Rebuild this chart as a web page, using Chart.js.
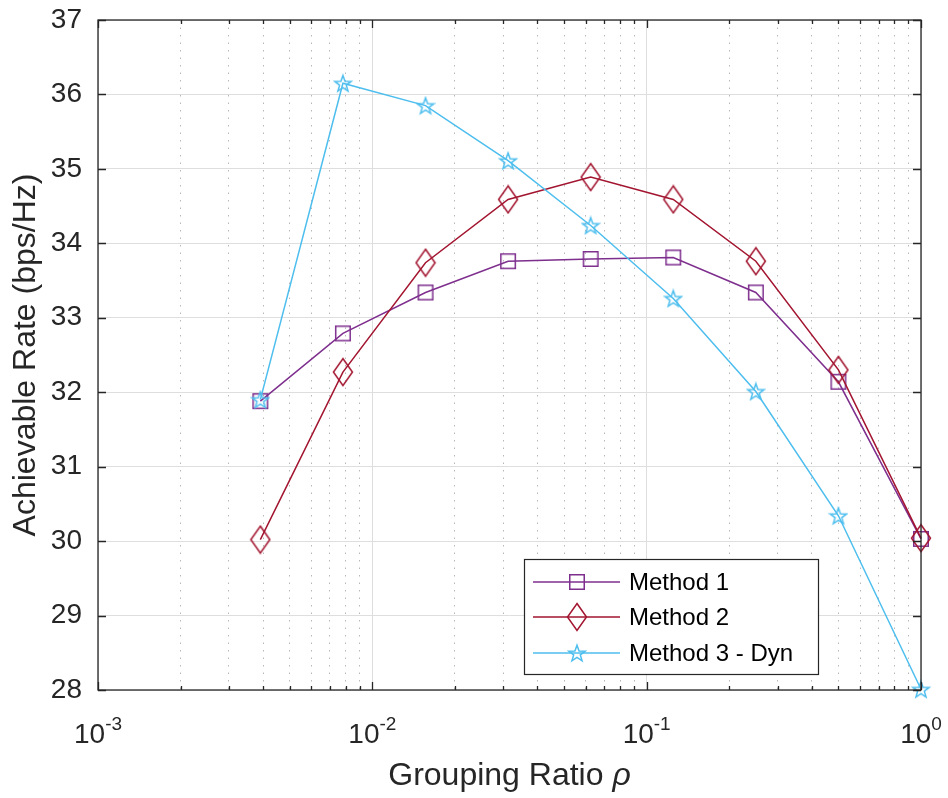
<!DOCTYPE html>
<html>
<head>
<meta charset="utf-8">
<script src="https://cdn.jsdelivr.net/npm/chart.js@4/dist/chart.umd.min.js"></script>
<style>
  body { margin: 0; background: #fff; }
  canvas { display: block; }
</style>
</head>
<body>
<canvas id="rateChart" width="948" height="798"></canvas>
<script>
// grouping ratio rho = 2^-8 ... 2^0
const groupingRatio = [0.00390625, 0.0078125, 0.015625, 0.03125, 0.0625, 0.125, 0.25, 0.5, 1];

// achievable rate (bps/Hz)
const method1 = [31.88, 32.79, 33.34, 33.76, 33.79, 33.81, 33.34, 32.14, 30.03];
const method2 = [30.02, 32.27, 33.74, 34.59, 34.89, 34.59, 33.76, 32.30, 30.04];
const method3 = [31.90, 36.15, 35.85, 35.11, 34.24, 33.26, 32.01, 30.34, 28.01];

const seriesNames = ['Method 1', 'Method 2', 'Method 3 - Dyn'];

// axis ticks
const xMajorTicks = [0.001, 0.01, 0.1, 1];
const xMinorSteps = [2, 3, 4, 5, 6, 7, 8, 9];
const yMin = 28, yMax = 37;

const FONT = '"Liberation Sans", Arial, Helvetica, sans-serif';
const AXIS_COLOR = '#262626';
const COLORS = ['#7E2F8E', '#A2142F', '#4DBEEE'];

function isMajor(v) {
    return xMajorTicks.some(m => Math.abs(m - v) / m < 1e-9);
}

// build every x tick: decades plus 2..9 within each decade
const xAllTicks = [];
xMajorTicks.forEach((m, i) => {
    xAllTicks.push(m);
    if (i < xMajorTicks.length - 1) {
        xMinorSteps.forEach(s => xAllTicks.push(m * s));
    }
});

// marker images (MATLAB style outlined markers)
function makeMarker(kind, color) {
    const c = document.createElement('canvas');
    let w, h;
    if (kind === 'square') { w = 18; h = 18; }
    else if (kind === 'diamond') { w = 22; h = 30; }
    else { w = 20; h = 20; }
    c.width = w; c.height = h;
    const g = c.getContext('2d');
    g.strokeStyle = color;
    g.lineWidth = 1.5;
    g.beginPath();
    if (kind === 'square') {
        g.rect(1.75, 1.75, 14.5, 14.5);
    } else if (kind === 'diamond') {
        g.moveTo(w / 2, 1.5);
        g.lineTo(w - 1.5, h / 2);
        g.lineTo(w / 2, h - 1.5);
        g.lineTo(1.5, h / 2);
        g.closePath();
    } else {
        const cx = w / 2, cy = h / 2 + 0.8, ro = 8.6, ri = 3.5;
        for (let k = 0; k < 10; k++) {
            const r = k % 2 === 0 ? ro : ri;
            const a = -Math.PI / 2 + k * Math.PI / 5;
            const px = cx + r * Math.cos(a), py = cy + r * Math.sin(a);
            if (k === 0) g.moveTo(px, py); else g.lineTo(px, py);
        }
        g.closePath();
    }
    g.stroke();
    return c;
}

const markers = [
    makeMarker('square', COLORS[0]),
    makeMarker('diamond', COLORS[1]),
    makeMarker('star', COLORS[2])
];

function toPoints(values) {
    return values.map((y, i) => ({ x: groupingRatio[i], y: y }));
}

// axes box, inward ticks, x labels, x title and legend like MATLAB
const matlabAxes = {
    id: 'matlabAxes',
    afterDatasetsDraw(chart) {
        const { ctx, chartArea: a, scales } = chart;
        ctx.save();
        ctx.strokeStyle = AXIS_COLOR;
        ctx.lineWidth = 1.3;
        ctx.beginPath();
        scales.x.ticks.forEach(t => {
            const px = Math.round(scales.x.getPixelForValue(t.value)) + 0.5;
            const len = isMajor(t.value) ? 8 : 4;
            ctx.moveTo(px, a.bottom); ctx.lineTo(px, a.bottom - len);
            ctx.moveTo(px, a.top); ctx.lineTo(px, a.top + len);
        });
        scales.y.ticks.forEach(t => {
            const py = Math.round(scales.y.getPixelForValue(t.value)) + 0.5;
            ctx.moveTo(a.left, py); ctx.lineTo(a.left + 8, py);
            ctx.moveTo(a.right, py); ctx.lineTo(a.right - 8, py);
        });
        ctx.stroke();
        ctx.strokeRect(a.left, a.top, a.right - a.left, a.bottom - a.top);
        ctx.restore();
    },
    afterDraw(chart) {
        const { ctx, chartArea: a, scales } = chart;
        ctx.save();
        ctx.fillStyle = AXIS_COLOR;
        ctx.textBaseline = 'alphabetic';
        ctx.textAlign = 'left';

        // x tick labels 10^n
        xMajorTicks.forEach(v => {
            const px = scales.x.getPixelForValue(v);
            const exp = String(Math.round(Math.log10(v)));
            ctx.font = '28px ' + FONT;
            const wBase = ctx.measureText('10').width;
            ctx.font = '19px ' + FONT;
            const wExp = ctx.measureText(exp).width;
            const x0 = px - (wBase + wExp) / 2;
            ctx.font = '28px ' + FONT;
            ctx.fillText('10', x0, 743);
            ctx.font = '19px ' + FONT;
            ctx.fillText(exp, x0 + wBase, 730);
        });

        // x title with italic rho
        const t1 = 'Grouping Ratio ', t2 = '\u03C1';
        ctx.font = '32px ' + FONT;
        const w1 = ctx.measureText(t1).width;
        ctx.font = 'italic 32px ' + FONT;
        const w2 = ctx.measureText(t2).width;
        const xs = (a.left + a.right) / 2 - (w1 + w2) / 2;
        ctx.font = '32px ' + FONT;
        ctx.fillText(t1, xs, 785);
        ctx.font = 'italic 32px ' + FONT;
        ctx.fillText(t2, xs + w1, 785);

        // legend
        const box = { left: 524, top: 559, right: 818, bottom: 674 };
        ctx.fillStyle = '#ffffff';
        ctx.fillRect(box.left, box.top, box.right - box.left, box.bottom - box.top);
        ctx.strokeStyle = AXIS_COLOR;
        ctx.lineWidth = 1.2;
        ctx.strokeRect(box.left + 0.5, box.top + 0.5, box.right - box.left, box.bottom - box.top);
        const rows = [582, 617, 653];
        ctx.font = '24px ' + FONT;
        ctx.textBaseline = 'middle';
        seriesNames.forEach((name, i) => {
            const y = rows[i];
            ctx.strokeStyle = COLORS[i];
            ctx.lineWidth = 1.5;
            ctx.beginPath();
            ctx.moveTo(533, y); ctx.lineTo(620, y);
            ctx.stroke();
            const m = markers[i];
            ctx.drawImage(m, 577 - m.width / 2, y - m.height / 2);
            ctx.fillStyle = '#000000';
            ctx.fillText(name, 629, y + 1);
        });
        ctx.restore();
    }
};

const datasets = [method1, method2, method3].map((vals, i) => ({
    label: seriesNames[i],
    data: toPoints(vals),
    borderColor: COLORS[i],
    backgroundColor: COLORS[i],
    borderWidth: 1.5,
    pointStyle: markers[i],
    pointRadius: 8,
    pointHoverRadius: 8,
    tension: 0,
    clip: false,
    order: 3 - i
}));

new Chart(document.getElementById('rateChart'), {
    type: 'line',
    data: { datasets: datasets },
    options: {
        responsive: false,
        devicePixelRatio: 1,
        animation: false,
        layout: { padding: { top: 20, right: 27, left: 0, bottom: 0 } },
        plugins: {
            legend: { display: false },
            tooltip: { enabled: false }
        },
        scales: {
            x: {
                type: 'logarithmic',
                min: xMajorTicks[0],
                max: xMajorTicks[xMajorTicks.length - 1],
                afterBuildTicks: scale => {
                    scale.ticks = xAllTicks.map(v => ({ value: v }));
                },
                afterFit: scale => {
                    scale.height = 108;
                    scale.paddingLeft = 0;
                    scale.paddingRight = 0;
                },
                ticks: { display: false },
                grid: {
                    drawTicks: false,
                    lineWidth: 1,
                    color: ctx => (ctx.tick && !isMajor(ctx.tick.value)) ? '#b8b8b8' : '#dedede'
                },
                border: {
                    display: false,
                    dash: ctx => (ctx.tick && !isMajor(ctx.tick.value)) ? [1.5, 6] : []
                }
            },
            y: {
                min: yMin,
                max: yMax,
                afterFit: scale => {
                    scale.width = 98;
                    scale.paddingTop = 0;
                    scale.paddingBottom = 0;
                },
                ticks: {
                    stepSize: 1,
                    padding: 16,
                    color: AXIS_COLOR,
                    font: { family: FONT, size: 28 }
                },
                grid: { drawTicks: false, color: '#dedede', lineWidth: 1 },
                border: { display: false },
                title: {
                    display: true,
                    text: 'Achievable Rate (bps/Hz)',
                    color: AXIS_COLOR,
                    font: { family: FONT, size: 32 },
                    padding: { top: 7, bottom: 0 }
                }
            }
        }
    },
    plugins: [matlabAxes]
});
</script>
</body>
</html>
